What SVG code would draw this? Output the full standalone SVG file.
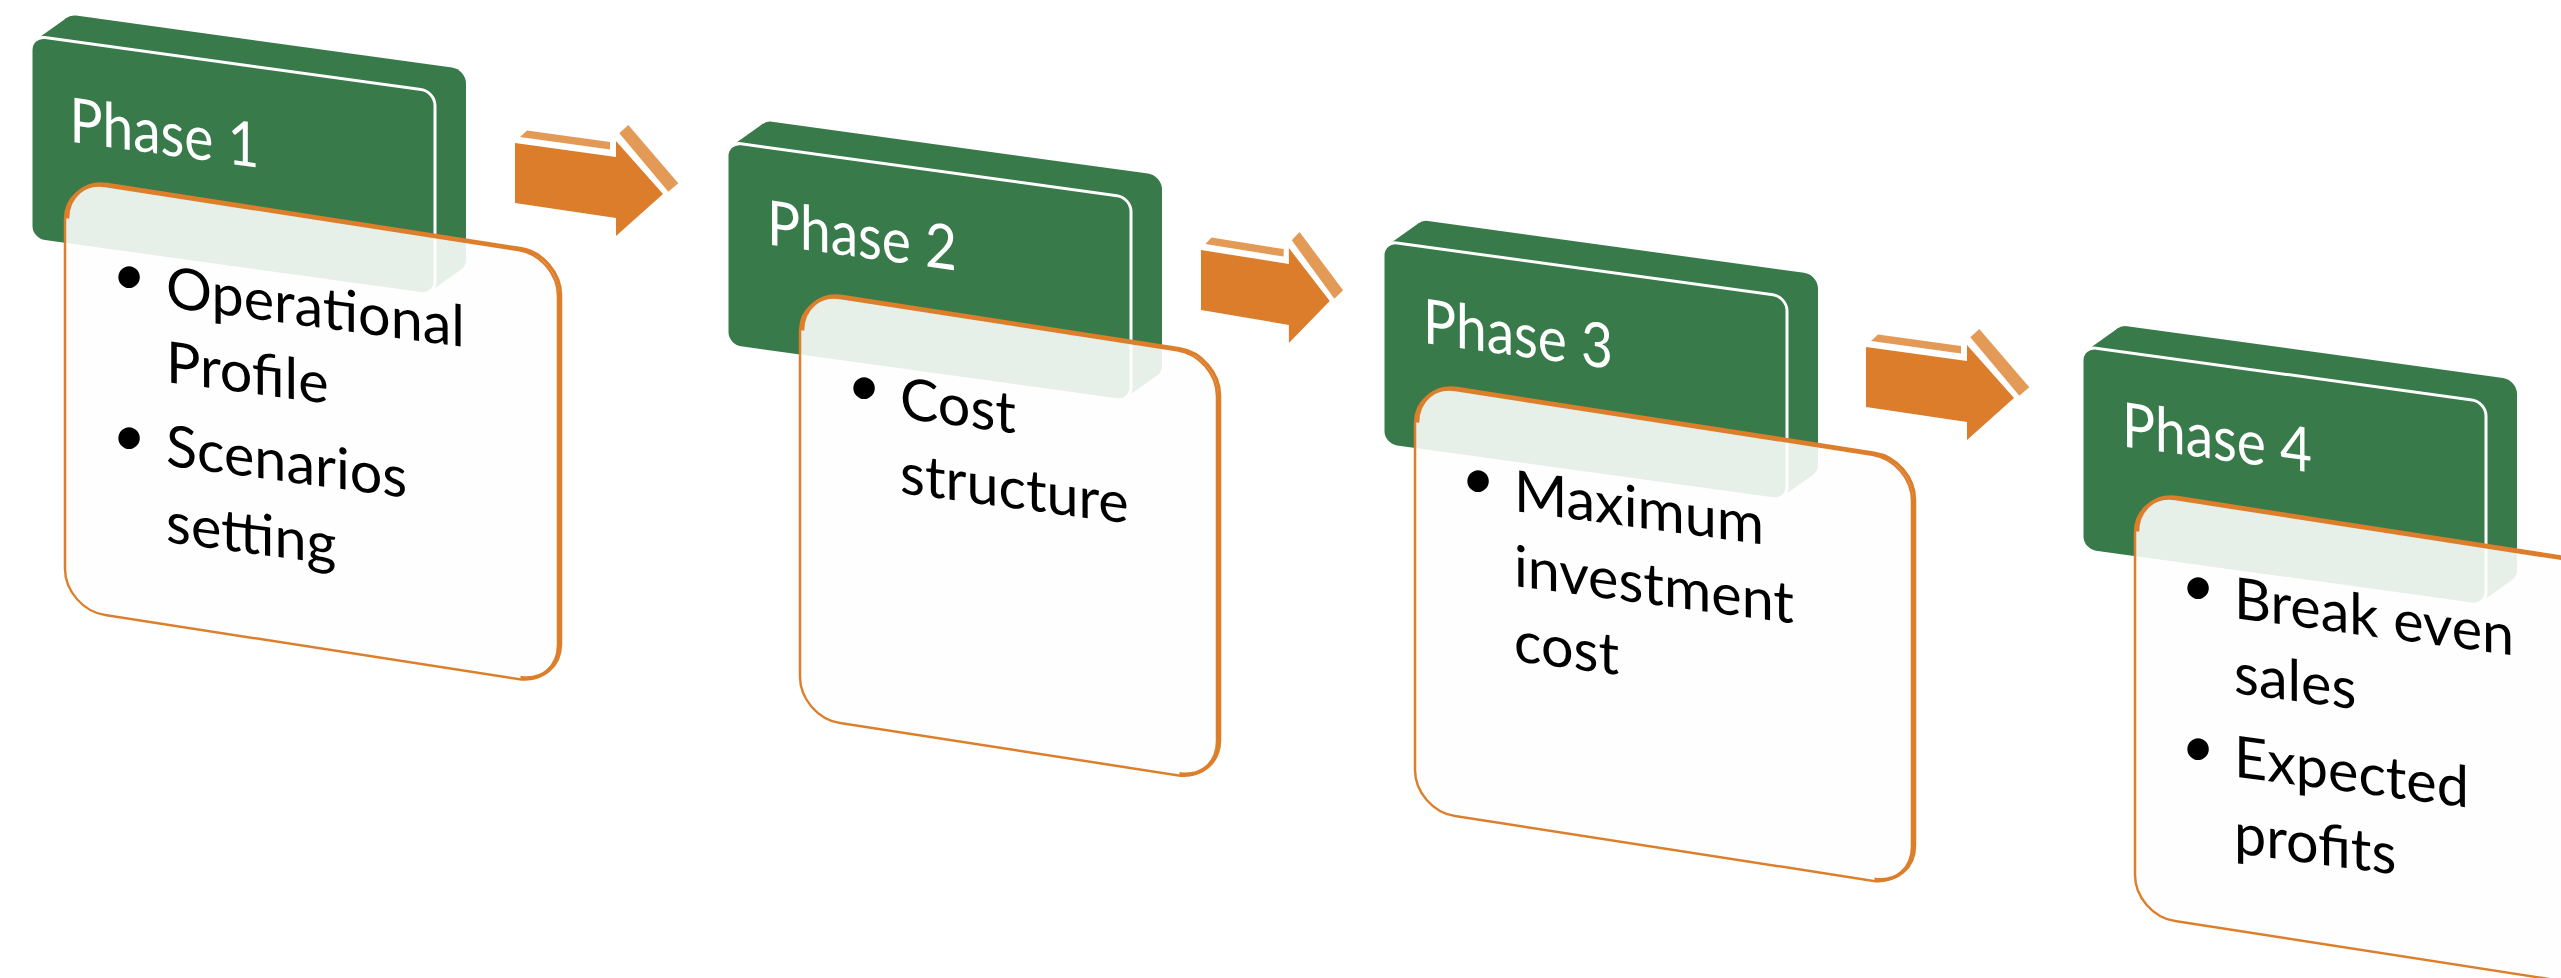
<svg xmlns="http://www.w3.org/2000/svg" xmlns:xlink="http://www.w3.org/1999/xlink" width="2561" height="978" viewBox="0 0 2561 978">
  <style>
    .g { fill: #387A4A; }
    .face { fill: #387A4A; stroke: #FFFFFF; stroke-width: 3; }
    .head { fill: #FFFFFF; font-family: Lato, "Liberation Sans", sans-serif; font-size: 62px; }
    .card { fill: #FEFEFE; fill-opacity: 0.885; stroke: #DD7E2B; stroke-width: 2.5; }
    .edge { fill: none; stroke: #DD7E2B; stroke-width: 3.5; }
    .body { fill: #000000; font-family: Lato, "Liberation Sans", sans-serif; font-size: 57.5px; }
    .bullet { fill: #000000; font-family: Lato, "Liberation Sans", sans-serif; font-size: 58px; text-anchor: middle; }
    .a-front { fill: #DB7D2A; }
    .a-side { fill: #E49A57; }
  </style>
  <defs>
    <!-- extruded green title slab: back face, bevel band, front face with white rim -->
    <g id="slab">
      <rect class="g" x="31" y="-26.3" width="404" height="204" rx="14"/>
      <polygon class="g" points="4.94,3.33 35.94,-22.97 430.06,174.37 399.06,200.67"/>
      <rect class="face" x="0" y="0" width="404" height="204" rx="14"/>
    </g>
    <!-- block arrow with its lighter top and head bevels -->
    <g id="arrow">
      <polygon class="a-side" points="5,-6 12,-12.5 95,-0.9 95,6.6"/>
      <polygon class="a-side" points="104.3,-9.7 113.3,-18 163.3,40.3 153.3,48.7"/>
      <polygon class="a-front" points="0,0 101,14 101,-2 148,51 101,93 101,75 0,60"/>
    </g>
  </defs>

  <g id="connectors">
    <use xlink:href="#arrow" transform="translate(515,143)"/>
    <use xlink:href="#arrow" transform="translate(1201,250) scale(0.87,1)"/>
    <use xlink:href="#arrow" transform="translate(1866,347)"/>
  </g>

  <g id="phase-1">
    <use xlink:href="#slab" transform="matrix(1,0.138,0,1,0,0) translate(31,31.4)"/>
    <text class="head" transform="matrix(1,0.138,0,1,0,0)" x="69.5" y="132" textLength="190" lengthAdjust="spacingAndGlyphs">Phase 1</text>
    <g transform="matrix(1,0.155,0,1,0,0) translate(65,169.7)">
      <rect class="card" width="493" height="429" rx="40"/>
      <path class="edge" transform="translate(2.5,-1.8)" d="M0,40 A40,40 0 0 1 40,0 H453 A40,40 0 0 1 493,40 V389 A40,40 0 0 1 453,429"/>
    </g>
    <g class="body" transform="matrix(1,0.134,0,1,0,0)">
      <text x="166" y="284.8">Operational</text>
      <text x="166" y="359.8">Profile</text>
      <text x="166" y="443.3">Scenarios</text>
      <text x="166" y="519.8">setting</text>
    </g>
    <text class="bullet" x="129" y="295">•</text>
    <text class="bullet" x="129" y="456">•</text>
  </g>

  <g id="phase-2">
    <use xlink:href="#slab" transform="matrix(1,0.138,0,1,0,0) translate(727,41.5)"/>
    <text class="head" transform="matrix(1,0.138,0,1,0,0)" x="767" y="138.5" textLength="190" lengthAdjust="spacingAndGlyphs">Phase 2</text>
    <g transform="matrix(1,0.155,0,1,0,0) translate(800,167.8)">
      <rect class="card" width="417" height="425" rx="40"/>
      <path class="edge" transform="translate(2.5,-1.8)" d="M0,40 A40,40 0 0 1 40,0 H377 A40,40 0 0 1 417,40 V385 A40,40 0 0 1 377,425"/>
    </g>
    <g class="body" transform="matrix(1,0.134,0,1,0,0)">
      <text x="900" y="297.4">Cost</text>
      <text x="900" y="372.4">structure</text>
    </g>
    <text class="bullet" x="864" y="406">•</text>
  </g>

  <g id="phase-3">
    <use xlink:href="#slab" transform="matrix(1,0.138,0,1,0,0) translate(1383,50.2)"/>
    <text class="head" transform="matrix(1,0.138,0,1,0,0)" x="1423" y="146.5" textLength="190" lengthAdjust="spacingAndGlyphs">Phase 3</text>
    <g transform="matrix(1,0.155,0,1,0,0) translate(1415,164.5)">
      <rect class="card" width="497" height="426" rx="40"/>
      <path class="edge" transform="translate(2.5,-1.8)" d="M0,40 A40,40 0 0 1 40,0 H457 A40,40 0 0 1 497,40 V386 A40,40 0 0 1 457,426"/>
    </g>
    <g class="body" transform="matrix(1,0.134,0,1,0,0)">
      <text x="1514" y="308.1">Maximum</text>
      <text x="1514" y="383.1">investment</text>
      <text x="1514" y="458.1">cost</text>
    </g>
    <text class="bullet" x="1478" y="499">•</text>
  </g>

  <g id="phase-4">
    <use xlink:href="#slab" transform="matrix(1,0.138,0,1,0,0) translate(2082,58.9)"/>
    <text class="head" transform="matrix(1,0.138,0,1,0,0)" x="2122" y="153.5" textLength="190" lengthAdjust="spacingAndGlyphs">Phase 4</text>
    <g transform="matrix(1,0.155,0,1,0,0) translate(2135,161.9)">
      <rect class="card" width="497" height="422" rx="40"/>
      <path class="edge" transform="translate(2.5,-1.8)" d="M0,40 A40,40 0 0 1 40,0 H457 A40,40 0 0 1 497,40 V382 A40,40 0 0 1 457,422"/>
    </g>
    <g class="body" transform="matrix(1,0.134,0,1,0,0)">
      <text x="2234" y="318.6">Break even</text>
      <text x="2234" y="393.6">sales</text>
      <text x="2234" y="477.1">Expected</text>
      <text x="2234" y="553.6">profits</text>
    </g>
    <text class="bullet" x="2198" y="606">•</text>
    <text class="bullet" x="2198" y="767">•</text>
  </g>
</svg>
